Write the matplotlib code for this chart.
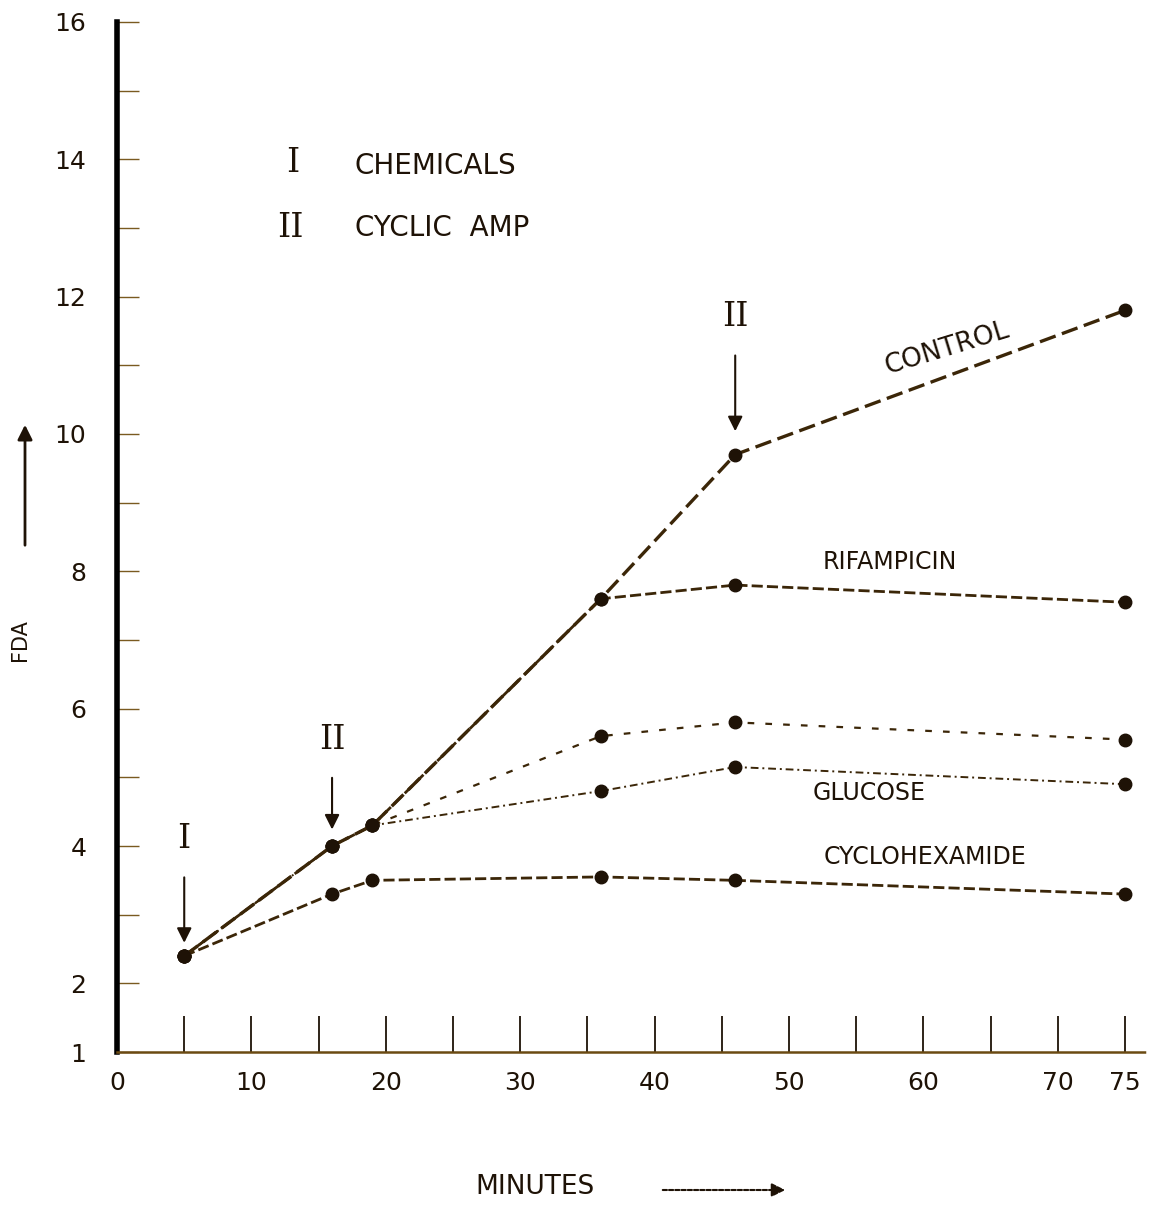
import matplotlib
matplotlib.use('Agg')
import matplotlib.pyplot as plt
import numpy as np

# data (minutes vs FDA)
minutes = [5, 16, 19, 36, 46, 75]
control = [2.4, 4.0, 4.3, 7.6, 9.7, 11.8]
rifampicin = [2.4, 4.0, 4.3, 7.6, 7.8, 7.55]
camp_only = [2.4, 4.0, 4.3, 5.6, 5.8, 5.55]
glucose = [2.4, 4.0, 4.3, 4.8, 5.15, 4.9]
cyclohexamide = [2.4, 3.3, 3.5, 3.55, 3.5, 3.3]

xtick_labels = ['0', '10', '20', '30', '40', '50', '60', '70', '75']
xtick_pos = [0, 10, 20, 30, 40, 50, 60, 70, 75]
ytick_pos = [1, 2, 4, 6, 8, 10, 12, 14, 16]

ink = '#1e1206'
line_col = '#3b2608'

fig = plt.figure(figsize=(11.52, 12.07), dpi=100)
ax = fig.add_axes([0.1016, 0.1284, 0.8924, 0.8534])

ax.plot(minutes, control, color=line_col, lw=2.4, ls=(0, (5, 2)), marker='o', ms=9, mfc=ink, mec=ink)
ax.plot(minutes, rifampicin, color=line_col, lw=2.0, ls=(0, (4, 1.5)), marker='o', ms=9, mfc=ink, mec=ink)
ax.plot(minutes, camp_only, color=line_col, lw=1.6, ls=(0, (3, 5)), marker='o', ms=9, mfc=ink, mec=ink)
ax.plot(minutes, glucose, color=line_col, lw=1.4, ls=(0, (4, 2, 1, 2)), marker='o', ms=9, mfc=ink, mec=ink)
ax.plot(minutes, cyclohexamide, color=line_col, lw=2.0, ls=(0, (4, 1.5)), marker='o', ms=9, mfc=ink, mec=ink)

ax.set_xlim(0, 76.5)
ax.set_ylim(1, 16)
for s in ['top', 'right']:
    ax.spines[s].set_visible(False)
ax.spines['left'].set_linewidth(4)
ax.spines['left'].set_color('black')
ax.spines['bottom'].set_linewidth(1.8)
ax.spines['bottom'].set_color('#6b4a12')
ax.spines['bottom'].set_linestyle((0, (3, 1)))

ax.set_xticks(xtick_pos)
ax.set_xticklabels(xtick_labels)
ax.set_xticks(np.arange(5, 70, 10), minor=True)
ax.set_yticks(ytick_pos)
ax.set_yticklabels([str(v) for v in ytick_pos])
ax.set_yticks(np.arange(3, 16, 2), minor=True)
ax.tick_params(axis='x', which='both', direction='in', length=26, width=1.3, color=ink,
               labelsize=18, labelcolor=ink, pad=14)
ax.tick_params(axis='y', which='both', direction='in', length=16, width=1.0, color='#7a5a20',
               labelsize=18, labelcolor=ink, pad=22)

# annotations
ax.annotate('I', xy=(minutes[0], control[0] + 0.15), xytext=(minutes[0], 4.1),
            ha='center', va='center', fontsize=24, family='DejaVu Serif', color=ink,
            arrowprops=dict(arrowstyle='-|>', color=ink, lw=1.5, mutation_scale=22, shrinkA=14))
ax.annotate('II', xy=(minutes[1], control[1] + 0.2), xytext=(minutes[1], 5.55),
            ha='center', va='center', fontsize=24, family='DejaVu Serif', color=ink,
            arrowprops=dict(arrowstyle='-|>', color=ink, lw=1.5, mutation_scale=22, shrinkA=14))
ax.annotate('II', xy=(minutes[4], control[4] + 0.3), xytext=(minutes[4], 11.7),
            ha='center', va='center', fontsize=24, family='DejaVu Serif', color=ink,
            arrowprops=dict(arrowstyle='-|>', color=ink, lw=1.5, mutation_scale=22, shrinkA=14))

ax.text(13.1, 13.95, 'I', ha='center', va='center', fontsize=24, family='DejaVu Serif', color=ink)
ax.text(17.7, 13.9, 'CHEMICALS', ha='left', va='center', fontsize=20, color=ink)
ax.text(12.9, 13.0, 'II', ha='center', va='center', fontsize=24, family='DejaVu Serif', color=ink)
ax.text(17.7, 13.0, 'CYCLIC  AMP', ha='left', va='center', fontsize=20, color=ink)

ax.text(61.8, 11.25, 'CONTROL', ha='center', va='center', rotation=17, fontsize=19, color=ink)
ax.text(57.5, 8.14, 'RIFAMPICIN', ha='center', va='center', fontsize=17, color=ink)
ax.text(56.0, 4.77, 'GLUCOSE', ha='center', va='center', fontsize=17, color=ink)
ax.text(60.1, 3.84, 'CYCLOHEXAMIDE', ha='center', va='center', fontsize=17, color=ink)

# axis titles with arrows
fig.text(20 / 1152, 1 - 640 / 1207, 'FDA', rotation=90, ha='center', va='center', fontsize=15, color=ink)
fig.add_artist(matplotlib.patches.FancyArrowPatch((25 / 1152, 1 - 548 / 1207), (25 / 1152, 1 - 422 / 1207),
               transform=fig.transFigure, arrowstyle='-|>', mutation_scale=22, color=ink, lw=2))
fig.text(535 / 1152, 1 - 1187 / 1207, 'MINUTES', ha='center', va='center', fontsize=19, color=ink)
fig.add_artist(matplotlib.patches.FancyArrowPatch((660 / 1152, 1 - 1190 / 1207), (788 / 1152, 1 - 1190 / 1207),
               transform=fig.transFigure, arrowstyle='-|>', mutation_scale=20, color=ink, lw=1.5,
               linestyle=(0, (2, 1))))

plt.savefig('out.png', dpi=100)
